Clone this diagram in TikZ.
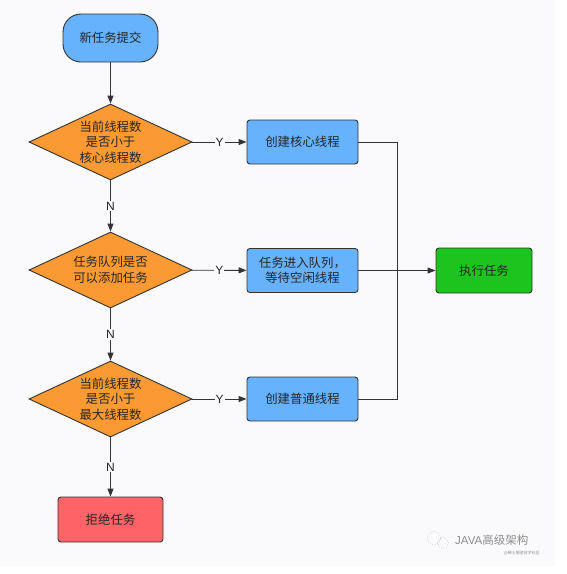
\documentclass[tikz,border=0pt]{standalone}
\usepackage{fontspec}
\setmainfont{Noto Sans CJK SC}
\newfontfamily\latinf{Liberation Sans}
\usetikzlibrary{shapes.geometric,arrows.meta}
\definecolor{bluebox}{HTML}{66B2FC}
\definecolor{orangec}{HTML}{FB9A32}
\definecolor{greenc}{HTML}{1DC41D}
\definecolor{redc}{HTML}{FD6468}
\definecolor{linec}{HTML}{333333}
\definecolor{textc}{HTML}{262626}
\definecolor{bgc}{HTML}{FAFAFC}
\definecolor{wmc}{HTML}{8C8C8C}
\tikzset{
  base/.style={draw=linec, line width=0.9pt, font=\fontsize{12.4}{15.5}\selectfont,
    text=textc, align=center, inner sep=0pt},
  procbox/.style={base, rectangle, rounded corners=3pt, minimum width=111pt,
    minimum height=44pt, fill=bluebox},
  decision/.style={base, diamond, aspect=2.14, minimum width=163pt,
    minimum height=76pt, fill=orangec},
  termbox/.style={base, rectangle, rounded corners=18pt, minimum width=95pt,
    minimum height=48pt, fill=bluebox},
  arr/.style={-{Triangle[length=8pt,width=6pt]}, draw=linec, line width=0.9pt},
  plain/.style={draw=linec, line width=0.9pt},
  lbl/.style={fill=bgc, font=\latinf\fontsize{12}{14}\selectfont, inner sep=1pt, text=textc}
}
\begin{document}
\begin{tikzpicture}[x=1pt,y=-1pt]
\useasboundingbox (0,0) rectangle (567,574);
\fill[white] (0,0) rectangle (567,574);
\fill[bgc] (0,0) rectangle (555,566);

\node[termbox] (start) at (110.5,38) {新任务提交};
\node[decision] (d1) at (110.5,142) {当前线程数\\是否小于\\核心线程数};
\node[decision] (d2) at (110.5,270) {任务队列是否\\可以添加任务};
\node[decision] (d3) at (110.5,399) {当前线程数\\是否小于\\最大线程数};
\node[procbox] (b1) at (302.5,142) {创建核心线程};
\node[procbox] (b2) at (302.5,270.5) {任务进入队列，\\等待空闲线程};
\node[procbox] (b3) at (302.5,399) {创建普通线程};
\node[base, rectangle, rounded corners=3pt, minimum width=96pt, minimum height=45pt,
  fill=greenc] (exec) at (484,270.5) {执行任务};
\node[base, rectangle, rounded corners=3pt, minimum width=105pt, minimum height=45pt,
  fill=redc] (reject) at (110.5,519.5) {拒绝任务};
\coordinate (join) at (397,270.5);

\draw[arr] (start) -- (d1);
\draw[arr] (d1) -- node[lbl] {Y} (b1);
\draw[arr] (d2) -- node[lbl] {Y} (b2);
\draw[arr] (d3) -- node[lbl] {Y} (b3);
\draw[arr] (d1) -- node[lbl] {N} (d2);
\draw[arr] (d2) -- node[lbl] {N} (d3);
\draw[arr] (d3) -- node[lbl] {N} (reject);
\draw[plain] (b1.east) -| (join);
\draw[plain] (b3.east) -| (join);
\draw[arr] (b2.east) -- (exec.west);

% watermark
\draw[wmc!60, line width=0.6pt, dotted] (434,538) circle (6.5pt);
\draw[wmc!60, line width=0.6pt, dotted] (443,543) circle (5.5pt);
\node[text=wmc, font=\latinf\fontsize{11.5}{13}\selectfont, inner sep=0pt, anchor=west] (wm) at (455,540)
  {JAVA\fontspec{Noto Sans CJK SC}高级架构};
\node[text=wmc, font=\fontsize{4}{5}\selectfont, inner sep=0pt, anchor=east] (wm2) at (540,553) {@稀土掘金技术社区};
\end{tikzpicture}
\end{document}
